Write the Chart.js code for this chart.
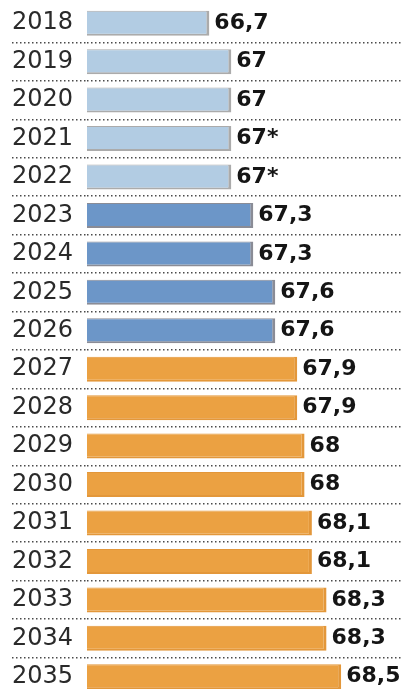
<!DOCTYPE html>
<html>
<head>
<meta charset="utf-8">
<script src="https://cdn.jsdelivr.net/npm/chart.js@4/dist/chart.umd.min.js"></script>
<style>
	html, body { margin: 0; padding: 0; background: #fff; overflow: hidden; }
	#wrap { width: 402px; height: 700px; position: relative; }
</style>
</head>
<body>
<div id="wrap"><canvas id="mycanvas"></canvas></div>
<script>
var years = ["2018", "2019", "2020", "2021", "2022", "2023", "2024", "2025", "2026",
	"2027", "2028", "2029", "2030", "2031", "2032", "2033", "2034", "2035"];
var values = [66.7, 67, 67, 67, 67, 67.3, 67.3, 67.6, 67.6,
	67.9, 67.9, 68, 68, 68.1, 68.1, 68.3, 68.3, 68.5];
var marks = ["", "", "", "*", "*", "", "", "", "", "", "", "", "", "", "", "", "", ""];
var groups = ["a", "a", "a", "a", "a", "b", "b", "b", "b",
	"c", "c", "c", "c", "c", "c", "c", "c", "c"];

var fill = { a: "#b2cce3", b: "#6c96c8", c: "#eba142" };
var edge = { a: "#ababab", b: "#8a8c96", c: "#e3973a" };

var fills = [];
var edges = [];
for (var i in groups) {
	fills.push(fill[groups[i]]);
	edges.push(edge[groups[i]]);
}

// value text after each bar
var valueLabels = {
	id: "valueLabels",
	afterDatasetsDraw: function(chart) {
		var ctx = chart.ctx;
		var meta = chart.getDatasetMeta(0);
		ctx.save();
		ctx.font = "bold 22px 'DejaVu Sans'";
		ctx.fillStyle = "#151515";
		ctx.textAlign = "left";
		ctx.textBaseline = "middle";
		meta.data.forEach(function(bar, i) {
			var txt = String(values[i]).replace(".", ",") + marks[i];
			ctx.fillText(txt, bar.x + 5, bar.y);
		});
		ctx.restore();
	}
};

var ctx = document.getElementById("mycanvas");

var BarGraph = new Chart(ctx, {
	type: "bar",
	data: {
		labels: years,
		datasets: [
			{
				data: values,
				backgroundColor: fills,
				borderColor: edges,
				borderWidth: { top: 1, right: 3, bottom: 2, left: 3 },
				borderSkipped: false,
				barPercentage: 0.65,
				categoryPercentage: 1
			}
		]
	},
	options: {
		indexAxis: "y",
		responsive: true,
		maintainAspectRatio: false,
		animation: false,
		layout: { padding: { top: 4, left: 12, right: 0, bottom: 4 } },
		plugins: {
			legend: { display: false },
			tooltip: { enabled: false }
		},
		scales: {
			x: {
				display: false,
				min: 65.03,
				max: 69.33
			},
			y: {
				afterFit: function(scale) {
					scale.width = 75;
					scale.paddingTop = 0;
					scale.paddingBottom = 0;
				},
				border: { display: false, dash: [1.5, 2.5] },
				grid: {
					offset: true,
					color: function(c) { return c.index === 0 ? "rgba(0,0,0,0)" : "#4a4a4a"; },
					lineWidth: 1.5,
					tickBorderDash: [1.5, 2.5],
					tickLength: 75
				},
				ticks: {
					crossAlign: "far",
					color: "#2a2a2a",
					font: { family: "'DejaVu Sans'", size: 24 }
				}
			}
		}
	},
	plugins: [valueLabels]
});
</script>
</body>
</html>
